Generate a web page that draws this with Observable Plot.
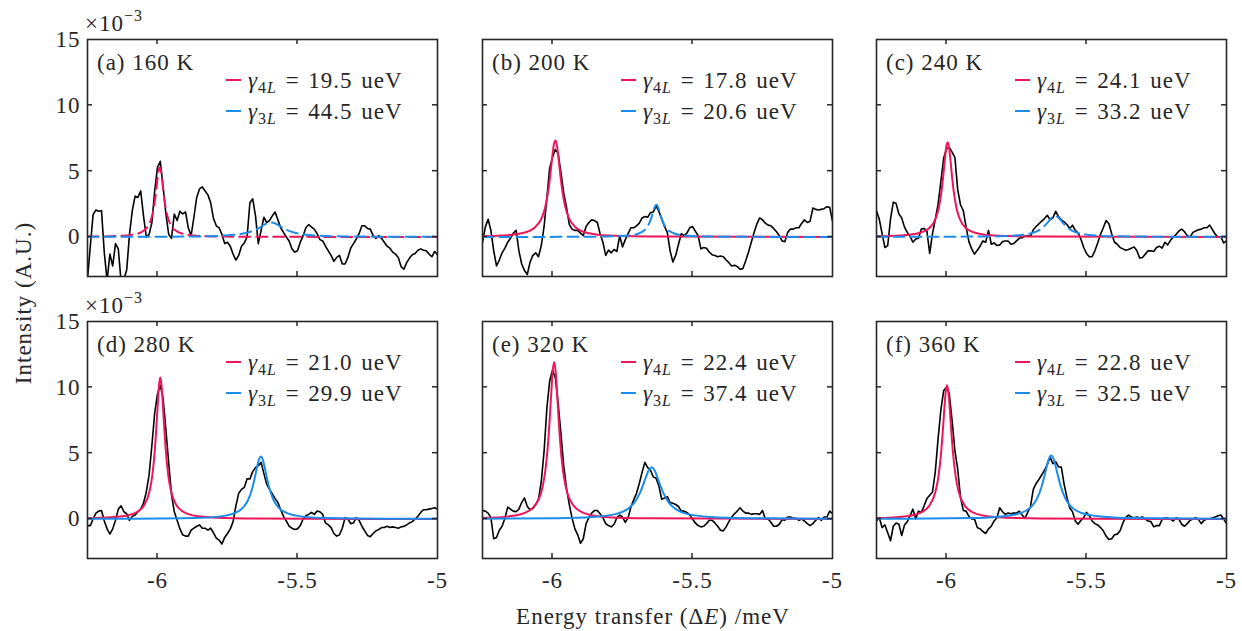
<!DOCTYPE html>
<html><head><meta charset="utf-8">
<script src="https://cdn.jsdelivr.net/npm/d3@7"></script>
<script src="https://cdn.jsdelivr.net/npm/@observablehq/plot@0.6"></script>
<style>
body{margin:0;background:#fff;}
#fig{position:relative;width:1242px;height:631px;background:#fff;overflow:hidden;}
</style></head><body><div id="fig"></div>
<script>
// ---------------- DATA ----------------
const energyMeV = [
-6.25,-6.24,-6.23,-6.22,-6.21,-6.20,-6.19,-6.18,-6.17,-6.16,
-6.15,-6.14,-6.13,-6.12,-6.11,-6.10,-6.09,-6.08,-6.07,-6.06,
-6.05,-6.04,-6.03,-6.02,-6.01,-6.00,-5.99,-5.98,-5.97,-5.96,
-5.95,-5.94,-5.93,-5.92,-5.91,-5.90,-5.89,-5.88,-5.87,-5.86,
-5.85,-5.84,-5.83,-5.82,-5.81,-5.80,-5.79,-5.78,-5.77,-5.76,
-5.75,-5.74,-5.73,-5.72,-5.71,-5.70,-5.69,-5.68,-5.67,-5.66,
-5.65,-5.64,-5.63,-5.62,-5.61,-5.60,-5.59,-5.58,-5.57,-5.56,
-5.55,-5.54,-5.53,-5.52,-5.51,-5.50,-5.49,-5.48,-5.47,-5.46,
-5.45,-5.44,-5.43,-5.42,-5.41,-5.40,-5.39,-5.38,-5.37,-5.36,
-5.35,-5.34,-5.33,-5.32,-5.31,-5.30,-5.29,-5.28,-5.27,-5.26,
-5.25,-5.24,-5.23,-5.22,-5.21,-5.20,-5.19,-5.18,-5.17,-5.16,
-5.15,-5.14,-5.13,-5.12,-5.11,-5.10,-5.09,-5.08,-5.07,-5.06,
-5.05,-5.04,-5.03,-5.02,-5.01,-5.00];

// measured intensity, units of 1e-3 (A.U.)
const intensity160K = [
-3.2,-0.7,1.7,2.05,1.95,2.0,-1.2,-3.3,-1.3,-2.2,
-0.5,-0.9,-3.4,-3.2,-2.5,0.2,2.0,3.1,3.0,3.5,
1.6,0,0.2,1.1,3.5,5.3,5.75,3.8,1.75,0.2,
-0.1,1.75,1.25,1.95,1.75,1.9,0.7,0.1,1.5,3.0,
3.65,3.8,3.5,3.2,2.6,1.4,0.85,0.7,0.2,-0.5,
-0.4,-0.7,-1.3,-1.75,-1.4,-0.7,-0.45,0,2.6,2.9,
1.6,-0.5,0.5,1.5,1.1,1.25,1.6,1.9,1.3,0.7,
0.35,0,-0.3,-0.9,-1.15,-1.05,-0.4,0.1,0.7,0.95,
0.75,0.6,0.25,-0.2,-0.3,-0.7,-1.05,-1.4,-1.85,-1.55,
-1.4,-2.05,-2.05,-1.55,-0.85,-0.5,-0.15,0.25,0.85,0.85,
0.65,0.6,0.1,-0.1,0.1,-0.1,-0.4,-0.7,-0.85,-1.15,
-1.3,-1.55,-2.25,-2.45,-1.95,-1.6,-1.35,-1.25,-1.0,-0.9,
-1.0,-1.05,-1.3,-1.5,-1.1,-1.35];
const intensity200K = [
-0.4,0.75,1.35,0.5,-1.05,-2.2,-1.75,-1.2,-0.85,-0.4,
-0.1,0.3,0.5,-1.05,-2.05,-2.55,-2.85,-1.9,-1.4,-1.2,
-1.5,-0.65,0.8,3.0,5.25,6.05,6.65,6.35,4.9,3.35,
2.25,0.95,0.6,0.5,0.5,0.3,0.1,0.8,1.1,1.3,
1.25,1.1,0.25,-0.4,-1.4,-1.0,-1.2,-0.95,-1.1,0.1,
-0.75,-0.2,0.25,0.7,0.7,0.85,1.05,1.45,1.55,1.5,
1.85,1.9,2.35,1.95,1.35,0.8,0.35,-1.05,-1.9,-1.4,
-0.55,0.25,0.1,0.3,0.7,0.8,0.45,0.1,-0.9,-0.8,
-0.85,-1.15,-1.35,-1.4,-1.5,-1.45,-1.5,-1.75,-1.95,-2.2,
-2.15,-2.25,-2.45,-2.4,-1.8,-1.15,-0.4,0.35,1.0,1.45,
1.3,1.05,0.9,0.85,0.65,0.4,0.1,-0.3,-0.35,0.35,
0.6,0.6,0.7,0.7,1.05,1.3,1.1,1.2,2.2,2.1,
2.05,2.1,2.15,2.3,2.25,1.2];
const intensity240K = [
2.0,1.35,0.25,-0.8,-0.65,1.35,2.65,2.55,1.75,1.45,
0.75,0.35,0.05,-0.4,-0.15,-0.1,0.6,0.65,0.45,-1.25,
0.25,1.35,2.5,4.25,6.0,6.7,6.8,6.45,6.05,3.6,
2.45,2.0,0.75,-0.35,-0.9,-1.3,-1.0,-0.7,-0.3,-0.4,
0.5,-0.55,-0.45,-0.65,-0.6,-0.35,-0.3,-0.3,-0.55,-0.5,
-0.3,-0.1,-0.05,0.05,0.1,0.05,0.55,0.8,1.0,1.2,
1.4,1.65,1.3,1.45,1.95,1.55,1.3,1.15,0.95,0.65,
0.9,0.5,0.3,-0.15,-0.8,-1.25,-1.5,-1.5,-1.05,-0.45,
0.2,0.7,1.25,1.0,0.25,-0.4,-0.55,-0.8,-0.9,-1.0,
-0.95,-0.85,-0.75,-1.05,-1.6,-1.55,-1.3,-1.05,-1.05,-1.1,
-0.8,-0.7,-0.85,-0.4,-0.6,-0.25,0,0.2,0.45,0.6,
0.4,0.1,0,0.35,0.45,0.55,0.6,0.7,0.7,0.9,
0.55,0.2,0,0,-0.45,-0.3];
const intensity280K = [
-0.5,-0.5,0,0.45,0.6,0.65,-0.15,-0.75,-1.15,-0.75,
-0.1,0.75,1.0,0.55,0.4,-0.1,0.2,0.3,0.55,0.75,
1.2,2.05,3.35,5.6,8.05,9.5,10.15,9.15,6.8,4.25,
1.85,0.55,-0.1,-0.75,-1.2,-1.3,-1.3,-0.85,-0.7,-0.55,
-0.45,-0.7,-0.7,-0.85,-0.7,-1.05,-1.45,-1.6,-1.9,-1.4,
-1.1,-0.75,-0.2,1.0,1.95,2.25,2.4,3.05,3.05,3.6,
3.9,4.05,4.3,3.45,2.65,2.25,1.9,1.55,1.25,0.7,
0.2,-0.15,-0.55,-0.7,-0.8,-0.75,-0.5,0,0.25,0.35,
0.5,0.35,0.6,0.55,0.35,-0.3,-0.45,-0.65,-1.1,-1.3,
-1.2,-0.7,0.1,0,-0.35,-0.3,0.1,-0.1,-0.55,-0.9,
-1.25,-1.35,-1.1,-0.9,-0.8,-0.65,-0.65,-0.55,-0.65,-0.6,
-0.65,-0.7,-0.6,-0.55,-0.45,-0.3,-0.2,0,0.2,0.5,
0.7,0.7,0.75,0.8,0.85,0.75];
const intensity320K = [
0.65,0.6,0.45,0.1,-1.5,-1.4,-0.85,-0.55,0.05,0.9,
0.75,0.6,0.55,0.75,1.25,1.6,0.95,0.7,0.8,1.1,
1.5,2.85,5.15,8.45,10.5,11.3,10.75,8.8,6.5,4.05,
2.35,1.1,0.05,-0.75,-1.2,-1.85,-1.5,-0.35,0.1,0.45,
0.65,0.65,0.4,0.1,-0.35,-0.5,-0.6,-0.4,0.1,0.3,
0.15,-0.25,0.1,0.9,1.45,1.95,2.7,3.55,4.3,3.9,
3.7,3.2,3.1,2.5,1.5,1.6,1.7,1.25,1.2,1.1,
0.95,0.6,0.6,0.5,0.3,0,-0.3,-0.5,-0.6,-0.55,
-0.35,-0.1,-0.1,-0.3,-0.55,-0.85,-0.9,-0.6,-0.2,0.15,
0.4,0.6,0.85,0.6,0.45,0.45,0.35,0.4,0.4,0.35,
0.65,0,0,-0.25,-0.55,-0.55,-0.4,-0.05,-0.1,0.15,
0.15,0.05,0.05,-0.1,0,-0.15,-0.35,-0.5,-0.35,-0.1,
0.1,-0.1,0.15,0.15,0.6,0.4];
const intensity360K = [
-0.15,0.1,-0.65,-0.45,-1.05,-1.65,-0.55,-0.3,-0.4,-1.25,
-0.45,-0.2,0.25,0.75,0,0.6,0.5,1.0,1.55,1.8,
2.05,3.6,6.1,8.3,9.75,10.0,9.5,7.45,5.2,3.8,
1.65,0.65,0.6,0.2,0,0,-0.65,-0.75,-0.95,-1.1,
-0.75,-0.55,-0.15,0.1,0.85,0.55,0.35,0.45,0.4,0.45,
0.45,0.6,0.3,0.05,0.5,0.95,2.25,2.7,3.0,3.35,
3.7,4.15,4.7,4.2,4.35,3.95,3.95,2.65,1.65,0.85,
0.55,-0.15,-0.4,-0.1,0.1,0.5,0.25,-0.15,-0.35,-0.45,
-0.65,-0.9,-1.3,-1.55,-1.5,-1.2,-1.15,-0.9,-0.3,0.1,
0.3,0.15,0.1,0.15,0.1,0.15,0,-0.15,-0.2,-0.6,
-0.5,-0.5,-0.05,0.1,0.05,0,-0.15,0.1,0,-0.4,
-0.55,-0.35,-0.1,0,0.1,-0.05,-0.35,-0.1,0,0,
0.1,0.15,0.25,0.3,0,-0.35];

// fitted Lorentzian curves (energy meV, intensity 1e-3)
const fit4L_160K = [[-6.25,0.03],[-6.136,0.08],[-6.082,0.2],[-6.046,0.53],[-6.028,1.06],[-6.019,1.63],[-6.010,2.65],[-6.0055,3.39],[-6.001,4.24],[-5.9965,4.99],[-5.992,5.3],[-5.9875,4.99],[-5.983,4.24],[-5.9785,3.39],[-5.974,2.65],[-5.965,1.63],[-5.956,1.06],[-5.938,0.53],[-5.902,0.2],[-5.848,0.08],[-5.704,0.02],[-5.0,0.0]];
const fit3L_160K = [[-6.25,0.01],[-6.035,0.02],[-5.87,0.04],[-5.76,0.11],[-5.705,0.22],[-5.6775,0.34],[-5.65,0.55],[-5.636,0.7],[-5.6225,0.88],[-5.609,1.035],[-5.595,1.1],[-5.581,1.035],[-5.5675,0.88],[-5.554,0.7],[-5.54,0.55],[-5.5125,0.34],[-5.485,0.22],[-5.43,0.11],[-5.32,0.04],[-5.155,0.02],[-5.0,0.01]];
const fit4L_200K = [[-6.25,0.06],[-6.182,0.11],[-6.11,0.28],[-6.062,0.74],[-6.038,1.47],[-6.026,2.26],[-6.014,3.68],[-6.008,4.7],[-6.002,5.88],[-5.996,6.92],[-5.99,7.35],[-5.984,6.92],[-5.978,5.88],[-5.972,4.7],[-5.966,3.68],[-5.954,2.26],[-5.942,1.47],[-5.918,0.74],[-5.87,0.28],[-5.798,0.11],[-5.606,0.03],[-5.0,0.0]];
const fit3L_200K = [[-6.25,0.0],[-5.981,0.01],[-5.805,0.04],[-5.739,0.09],[-5.695,0.25],[-5.673,0.49],[-5.662,0.75],[-5.651,1.23],[-5.6455,1.57],[-5.64,1.96],[-5.6345,2.31],[-5.629,2.45],[-5.6235,2.31],[-5.618,1.96],[-5.6125,1.57],[-5.607,1.23],[-5.596,0.75],[-5.585,0.49],[-5.563,0.25],[-5.519,0.09],[-5.453,0.04],[-5.277,0.01],[-5.0,0.0]];
const fit4L_240K = [[-6.25,0.05],[-6.164,0.11],[-6.101,0.28],[-6.059,0.72],[-6.038,1.44],[-6.0275,2.22],[-6.017,3.6],[-6.0118,4.61],[-6.0065,5.76],[-6.0013,6.78],[-5.996,7.2],[-5.9908,6.78],[-5.9855,5.76],[-5.9803,4.61],[-5.975,3.6],[-5.9645,2.22],[-5.954,1.44],[-5.933,0.72],[-5.891,0.28],[-5.828,0.11],[-5.66,0.03],[-5.0,0.0]];
const fit3L_240K = [[-6.25,0.01],[-5.932,0.03],[-5.812,0.06],[-5.732,0.16],[-5.692,0.32],[-5.672,0.49],[-5.652,0.8],[-5.642,1.02],[-5.632,1.28],[-5.622,1.51],[-5.612,1.6],[-5.602,1.51],[-5.592,1.28],[-5.582,1.02],[-5.572,0.8],[-5.552,0.49],[-5.532,0.32],[-5.492,0.16],[-5.412,0.06],[-5.292,0.03],[-5.0,0.01]];
const fit4L_280K = [[-6.25,0.06],[-6.142,0.17],[-6.085,0.41],[-6.047,1.07],[-6.028,2.15],[-6.0185,3.31],[-6.009,5.37],[-6.0043,6.87],[-5.9995,8.59],[-5.9948,10.11],[-5.99,10.74],[-5.9853,10.11],[-5.9805,8.59],[-5.9758,6.87],[-5.971,5.37],[-5.9615,3.31],[-5.952,2.15],[-5.933,1.07],[-5.895,0.41],[-5.838,0.17],[-5.686,0.04],[-5.0,0.0]];
const fit3L_280K = [[-6.25,0.01],[-6.111,0.02],[-5.871,0.07],[-5.781,0.18],[-5.721,0.48],[-5.691,0.95],[-5.676,1.46],[-5.661,2.38],[-5.6535,3.04],[-5.646,3.8],[-5.6385,4.47],[-5.631,4.75],[-5.6235,4.47],[-5.616,3.8],[-5.6085,3.04],[-5.601,2.38],[-5.586,1.46],[-5.571,0.95],[-5.541,0.48],[-5.481,0.18],[-5.391,0.07],[-5.151,0.02],[-5.0,0.01]];
const fit4L_320K = [[-6.25,0.08],[-6.162,0.18],[-6.099,0.46],[-6.057,1.19],[-6.036,2.39],[-6.0255,3.67],[-6.015,5.97],[-6.0098,7.64],[-6.0045,9.54],[-5.9993,11.23],[-5.994,11.93],[-5.9888,11.23],[-5.9835,9.54],[-5.9783,7.64],[-5.973,5.97],[-5.9625,3.67],[-5.952,2.39],[-5.931,1.19],[-5.889,0.46],[-5.826,0.18],[-5.658,0.05],[-5.0,0.0]];
const fit3L_320K = [[-6.25,0.02],[-5.982,0.06],[-5.856,0.15],[-5.772,0.39],[-5.73,0.79],[-5.709,1.21],[-5.688,1.97],[-5.6775,2.52],[-5.667,3.14],[-5.6565,3.7],[-5.646,3.93],[-5.6355,3.7],[-5.625,3.14],[-5.6145,2.52],[-5.604,1.97],[-5.583,1.21],[-5.562,0.79],[-5.52,0.39],[-5.436,0.15],[-5.31,0.06],[-5.0,0.02]];
const fit4L_360K = [[-6.25,0.07],[-6.166,0.16],[-6.103,0.39],[-6.061,1.02],[-6.04,2.03],[-6.0295,3.12],[-6.019,5.08],[-6.0138,6.5],[-6.0085,8.12],[-6.0033,9.55],[-5.998,10.15],[-5.9928,9.55],[-5.9875,8.12],[-5.9823,6.5],[-5.977,5.08],[-5.9665,3.12],[-5.956,2.03],[-5.935,1.02],[-5.893,0.39],[-5.83,0.16],[-5.662,0.04],[-5.0,0.0]];
const fit3L_360K = [[-6.25,0.02],[-5.906,0.07],[-5.801,0.19],[-5.731,0.48],[-5.696,0.96],[-5.6785,1.48],[-5.661,2.41],[-5.6523,3.09],[-5.6435,3.86],[-5.6348,4.54],[-5.626,4.82],[-5.6173,4.54],[-5.6085,3.86],[-5.5998,3.09],[-5.591,2.41],[-5.5735,1.48],[-5.556,0.96],[-5.521,0.48],[-5.451,0.19],[-5.346,0.07],[-5.0,0.02]];

const panelLabels = ["(a) 160 K","(b) 200 K","(c) 240 K","(d) 280 K","(e) 320 K","(f) 360 K"];
const gamma4L = ["19.5","17.8","24.1","21.0","22.4","22.8"];
const gamma3L = ["44.5","20.6","33.2","29.9","37.4","32.5"];
const fit4Dashed = [true,false,false,false,false,false];
const fit3Dashed = [true,true,true,false,false,false];
const xTickLabels = [-6,-5.5,-5];
const xTickMarks = [-6,-5.5];
const yTickLabels = [0,5,10,15];
const yTickMarks = [0,5,10];
const xDomain = [-6.25,-5];
const yDomain = [-3,15];

const intensities = [intensity160K,intensity200K,intensity240K,intensity280K,intensity320K,intensity360K];
const fits4L = [fit4L_160K,fit4L_200K,fit4L_240K,fit4L_280K,fit4L_320K,fit4L_360K];
const fits3L = [fit3L_160K,fit3L_200K,fit3L_240K,fit3L_280K,fit3L_320K,fit3L_360K];

// ---------------- STYLE / LAYOUT ----------------
const FONT = "'Liberation Serif', 'Times New Roman', Times, 'DejaVu Serif', serif";
const INK = "#262626";
const RED = "#EE1559", BLUE = "#1B8CEB";
const colLeft = [87, 482, 876], rowTop = [39, 321];
const PW = 350, PH = 237, ML = 50, MR = 10, MT = 30, MB = 45;
const FS = 23, SUBFS = 16;

const fig = document.getElementById("fig");

function decor(i) {
  return (index, scales, values, dims) => {
    const {width, height, marginTop, marginRight, marginBottom, marginLeft} = dims;
    const x0 = marginLeft, x1 = width - marginRight, y0 = marginTop, y1 = height - marginBottom;
    const T = 5;
    const g = d3.create("svg:g").attr("text-anchor", "start").attr("font-family", FONT);
    const tk = g.append("g").attr("stroke", INK).attr("stroke-width", 1.5).attr("fill", "none");
    for (const v of xTickMarks) {
      const px = scales.x(v);
      tk.append("line").attr("x1", px).attr("x2", px).attr("y1", y1).attr("y2", y1 - T);
      tk.append("line").attr("x1", px).attr("x2", px).attr("y1", y0).attr("y2", y0 + T);
    }
    for (const v of yTickMarks) {
      const py = scales.y(v);
      tk.append("line").attr("x1", x0).attr("x2", x0 + T).attr("y1", py).attr("y2", py);
      tk.append("line").attr("x1", x1).attr("x2", x1 - T).attr("y1", py).attr("y2", py);
    }
    g.append("text").attr("x", x0 + 10).attr("y", y0 + 31).attr("fill", INK)
      .attr("font-size", FS).text(panelLabels[i]);
    const rows = [{c: RED, s: "4", v: gamma4L[i]}, {c: BLUE, s: "3", v: gamma3L[i]}];
    rows.forEach((r, j) => {
      const cy = y0 + 41 + 31 * j;
      g.append("line").attr("x1", x0 + 139).attr("x2", x0 + 154).attr("y1", cy).attr("y2", cy)
        .attr("stroke", r.c).attr("stroke-width", 2);
      const t = g.append("text").attr("x", x0 + 161).attr("y", cy + 7.5).attr("fill", INK).attr("font-size", FS);
      t.append("tspan").attr("font-style", "italic").text("\u03B3");
      t.append("tspan").attr("font-size", SUBFS).attr("dy", 5).text(r.s);
      t.append("tspan").attr("font-size", SUBFS).attr("font-style", "italic").text("L");
      t.append("tspan").attr("dy", -5).text("\u2004=\u2004" + r.v + "\u2004ueV");
    });
    return g.node();
  };
}

for (let i = 0; i < 6; i++) {
  const col = i % 3, row = Math.floor(i / 3);
  const meas = energyMeV.map((x, k) => ({x, y: intensities[i][k]})).filter(d => d.y != null);
  const f4 = fits4L[i].map(([x, y]) => ({x, y}));
  const f3 = fits3L[i].map(([x, y]) => ({x, y}));
  const marks = [
    Plot.line(meas, {x: "x", y: "y", stroke: "#000", strokeWidth: 1.6, clip: true}),
    Plot.line(f4, {x: "x", y: "y", stroke: RED, strokeWidth: 2, curve: "monotone-x", clip: true,
      strokeDasharray: fit4Dashed[i] ? "11,6" : null}),
    Plot.line(f3, {x: "x", y: "y", stroke: BLUE, strokeWidth: 2, curve: "monotone-x", clip: true,
      strokeDasharray: fit3Dashed[i] ? "11,6" : null}),
    Plot.frame({stroke: INK, strokeWidth: 1.6}),
    decor(i)
  ];
  if (col === 0) marks.push(Plot.axisY({ticks: yTickLabels, tickSize: 0, tickPadding: 7, tickFormat: d => String(d), label: null, fontSize: FS}));
  if (row === 1) marks.push(Plot.axisX({ticks: xTickLabels, tickSize: 0, tickPadding: 13, tickFormat: d => String(d), label: null, fontSize: FS}));
  const svg = Plot.plot({
    width: PW + ML + MR, height: PH + MT + MB,
    marginLeft: ML, marginRight: MR, marginTop: MT, marginBottom: MB,
    x: {domain: xDomain, axis: row === 1 ? undefined : null},
    y: {domain: yDomain, axis: col === 0 ? undefined : null},
    style: {fontFamily: FONT, fontSize: FS + "px", color: INK, background: "transparent", overflow: "visible", letterSpacing: "1px"},
    marks
  });
  svg.setAttribute("font-family", FONT);
  svg.style.position = "absolute";
  svg.style.left = (colLeft[col] - ML) + "px";
  svg.style.top = (rowTop[row] - MT) + "px";
  svg.style.maxWidth = "none";
  fig.appendChild(svg);
}

// global labels
const over = d3.select(fig).append("svg").attr("width", 1242).attr("height", 631)
  .style("position", "absolute").style("left", 0).style("top", 0).style("pointer-events", "none")
  .style("font-family", FONT).attr("fill", INK).style("letter-spacing", "1px");
for (const r of [0, 1]) {
  const t = over.append("text").attr("x", 85).attr("y", rowTop[r] - 8).attr("font-size", FS);
  t.append("tspan").text("\u00D710");
  t.append("tspan").attr("font-size", SUBFS).attr("dy", -10).text("\u22123");
}
over.append("text").attr("transform", "translate(31,303) rotate(-90)").attr("text-anchor", "middle")
  .attr("font-size", FS).text("Intensity (A.U.)");
const xl = over.append("text").attr("x", 653).attr("y", 624).attr("text-anchor", "middle").attr("font-size", FS);
xl.append("tspan").text("Energy transfer (\u0394");
xl.append("tspan").attr("font-style", "italic").text("E");
xl.append("tspan").text(") /meV");
</script>
</body></html>
